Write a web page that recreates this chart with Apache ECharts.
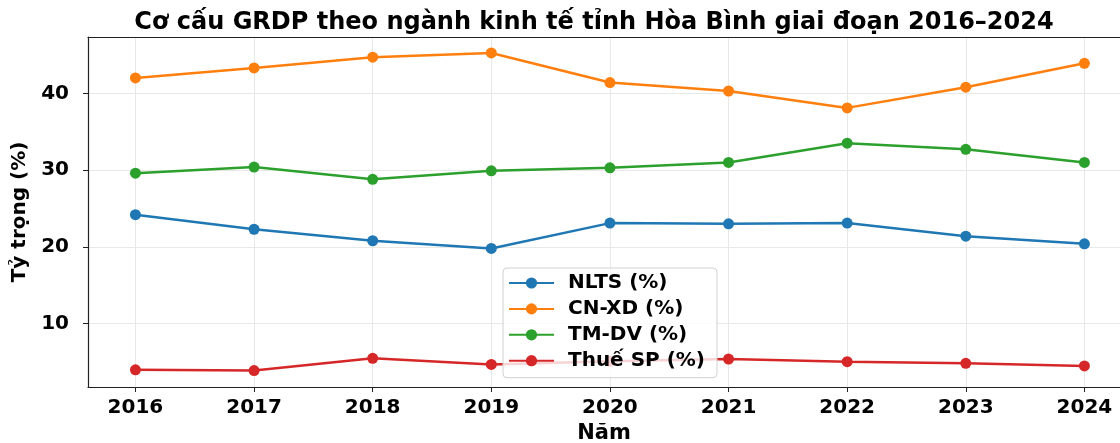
<!DOCTYPE html>
<html>
<head>
<meta charset="utf-8">
<script src="https://cdn.jsdelivr.net/npm/echarts@6/dist/echarts.min.js"></script>
<style>html,body{margin:0;padding:0;background:#fff}#c{width:1120px;height:443px}</style>
</head>
<body>
<div id="c"></div>
<script>
const years = [2016, 2017, 2018, 2019, 2020, 2021, 2022, 2023, 2024];
const nlts  = [24.2, 22.3, 20.8, 19.8, 23.1, 23.0, 23.1, 21.4, 20.4];
const cnxd  = [42.0, 43.3, 44.7, 45.25, 41.4, 40.3, 38.1, 40.8, 43.9];
const tmdv  = [29.6, 30.4, 28.8, 29.9, 30.3, 31.0, 33.5, 32.7, 31.0];
const thue  = [4.0, 3.9, 5.5, 4.7, 5.1, 5.4, 5.05, 4.85, 4.5];
const yTicks = [10, 20, 30, 40];
const seriesNames = ['NLTS (%)', 'CN-XD (%)', 'TM-DV (%)', 'Thuế SP (%)'];
const colors = ['#1f77b4', '#ff7f0e', '#2ca02c', '#d62728'];

const F = 'DejaVu Sans';
const xMin = 2015.6, xMax = 2024.3;
const yMin = 1.76, yMax = 47.33;

const dataSets = [nlts, cnxd, tmdv, thue];
const series = dataSets.map((arr, i) => ({
  name: seriesNames[i],
  type: 'line',
  xAxisIndex: 0,
  data: years.map((y, j) => [y, arr[j]]),
  symbol: 'circle',
  symbolSize: 11,
  lineStyle: {width: 2.5, color: colors[i]},
  itemStyle: {color: colors[i]},
  z: 2
}));

const chart = echarts.init(document.getElementById('c'), null, {renderer: 'canvas'});
chart.setOption({
  animation: false,
  backgroundColor: '#fff',
  title: {
    text: 'Cơ cấu GRDP theo ngành kinh tế tỉnh Hòa Bình giai đoạn 2016–2024',
    left: 589, top: 6, textAlign: 'center',
    textStyle: {fontFamily: F, fontWeight: 'bold', fontSize: 24, color: '#000'}
  },
  legend: {
    orient: 'vertical',
    left: 503, top: 268,
    padding: [5, 12, 7, 5],
    itemWidth: 45, itemHeight: 14, itemGap: 5.9,
    backgroundColor: 'rgba(255,255,255,0.8)',
    borderColor: '#d0d0d0', borderWidth: 1, borderRadius: 4,
    textStyle: {fontFamily: F, fontWeight: 'bold', fontSize: 20, color: '#000', lineHeight: 20, padding: [0, 0, 0, 9]},
    data: seriesNames,
    z: 10
  },
  grid: {left: 88, right: 0, top: 37, bottom: 56, containLabel: false, outerBoundsMode: 'none'},
  xAxis: [{
    type: 'value', min: xMin, max: xMax,
    name: 'Năm', nameLocation: 'middle', nameGap: 35,
    nameTextStyle: {fontFamily: F, fontWeight: 'bold', fontSize: 21, color: '#000'},
    axisLine: {show: true, lineStyle: {color: '#222', width: 1.2}},
    axisTick: {show: true, customValues: years, length: 5, lineStyle: {color: '#222', width: 1}},
    axisLabel: {customValues: years, margin: 11, fontFamily: F, fontWeight: 'bold', fontSize: 20, color: '#000', formatter: v => String(v)},
    splitLine: {show: true, lineStyle: {color: '#e8e8e8', width: 1}}
  }, {
    type: 'value', position: 'top', min: xMin, max: xMax,
    axisLine: {show: true, onZero: false, lineStyle: {color: '#222', width: 1.2}},
    axisTick: {show: false}, axisLabel: {show: false}, splitLine: {show: false}
  }],
  yAxis: {
    type: 'value', min: yMin, max: yMax,
    name: 'Tỷ trọng (%)', nameLocation: 'middle', nameGap: 50,
    nameTextStyle: {fontFamily: F, fontWeight: 'bold', fontSize: 20, color: '#000'},
    axisLine: {show: true, onZero: false, lineStyle: {color: '#222', width: 1.2}},
    axisTick: {show: true, customValues: yTicks, length: 5, lineStyle: {color: '#222', width: 1}},
    axisLabel: {customValues: yTicks, margin: 19, fontFamily: F, fontWeight: 'bold', fontSize: 20, color: '#000'},
    splitLine: {show: true, lineStyle: {color: '#e8e8e8', width: 1}}
  },
  series: series
});
</script>
</body>
</html>
